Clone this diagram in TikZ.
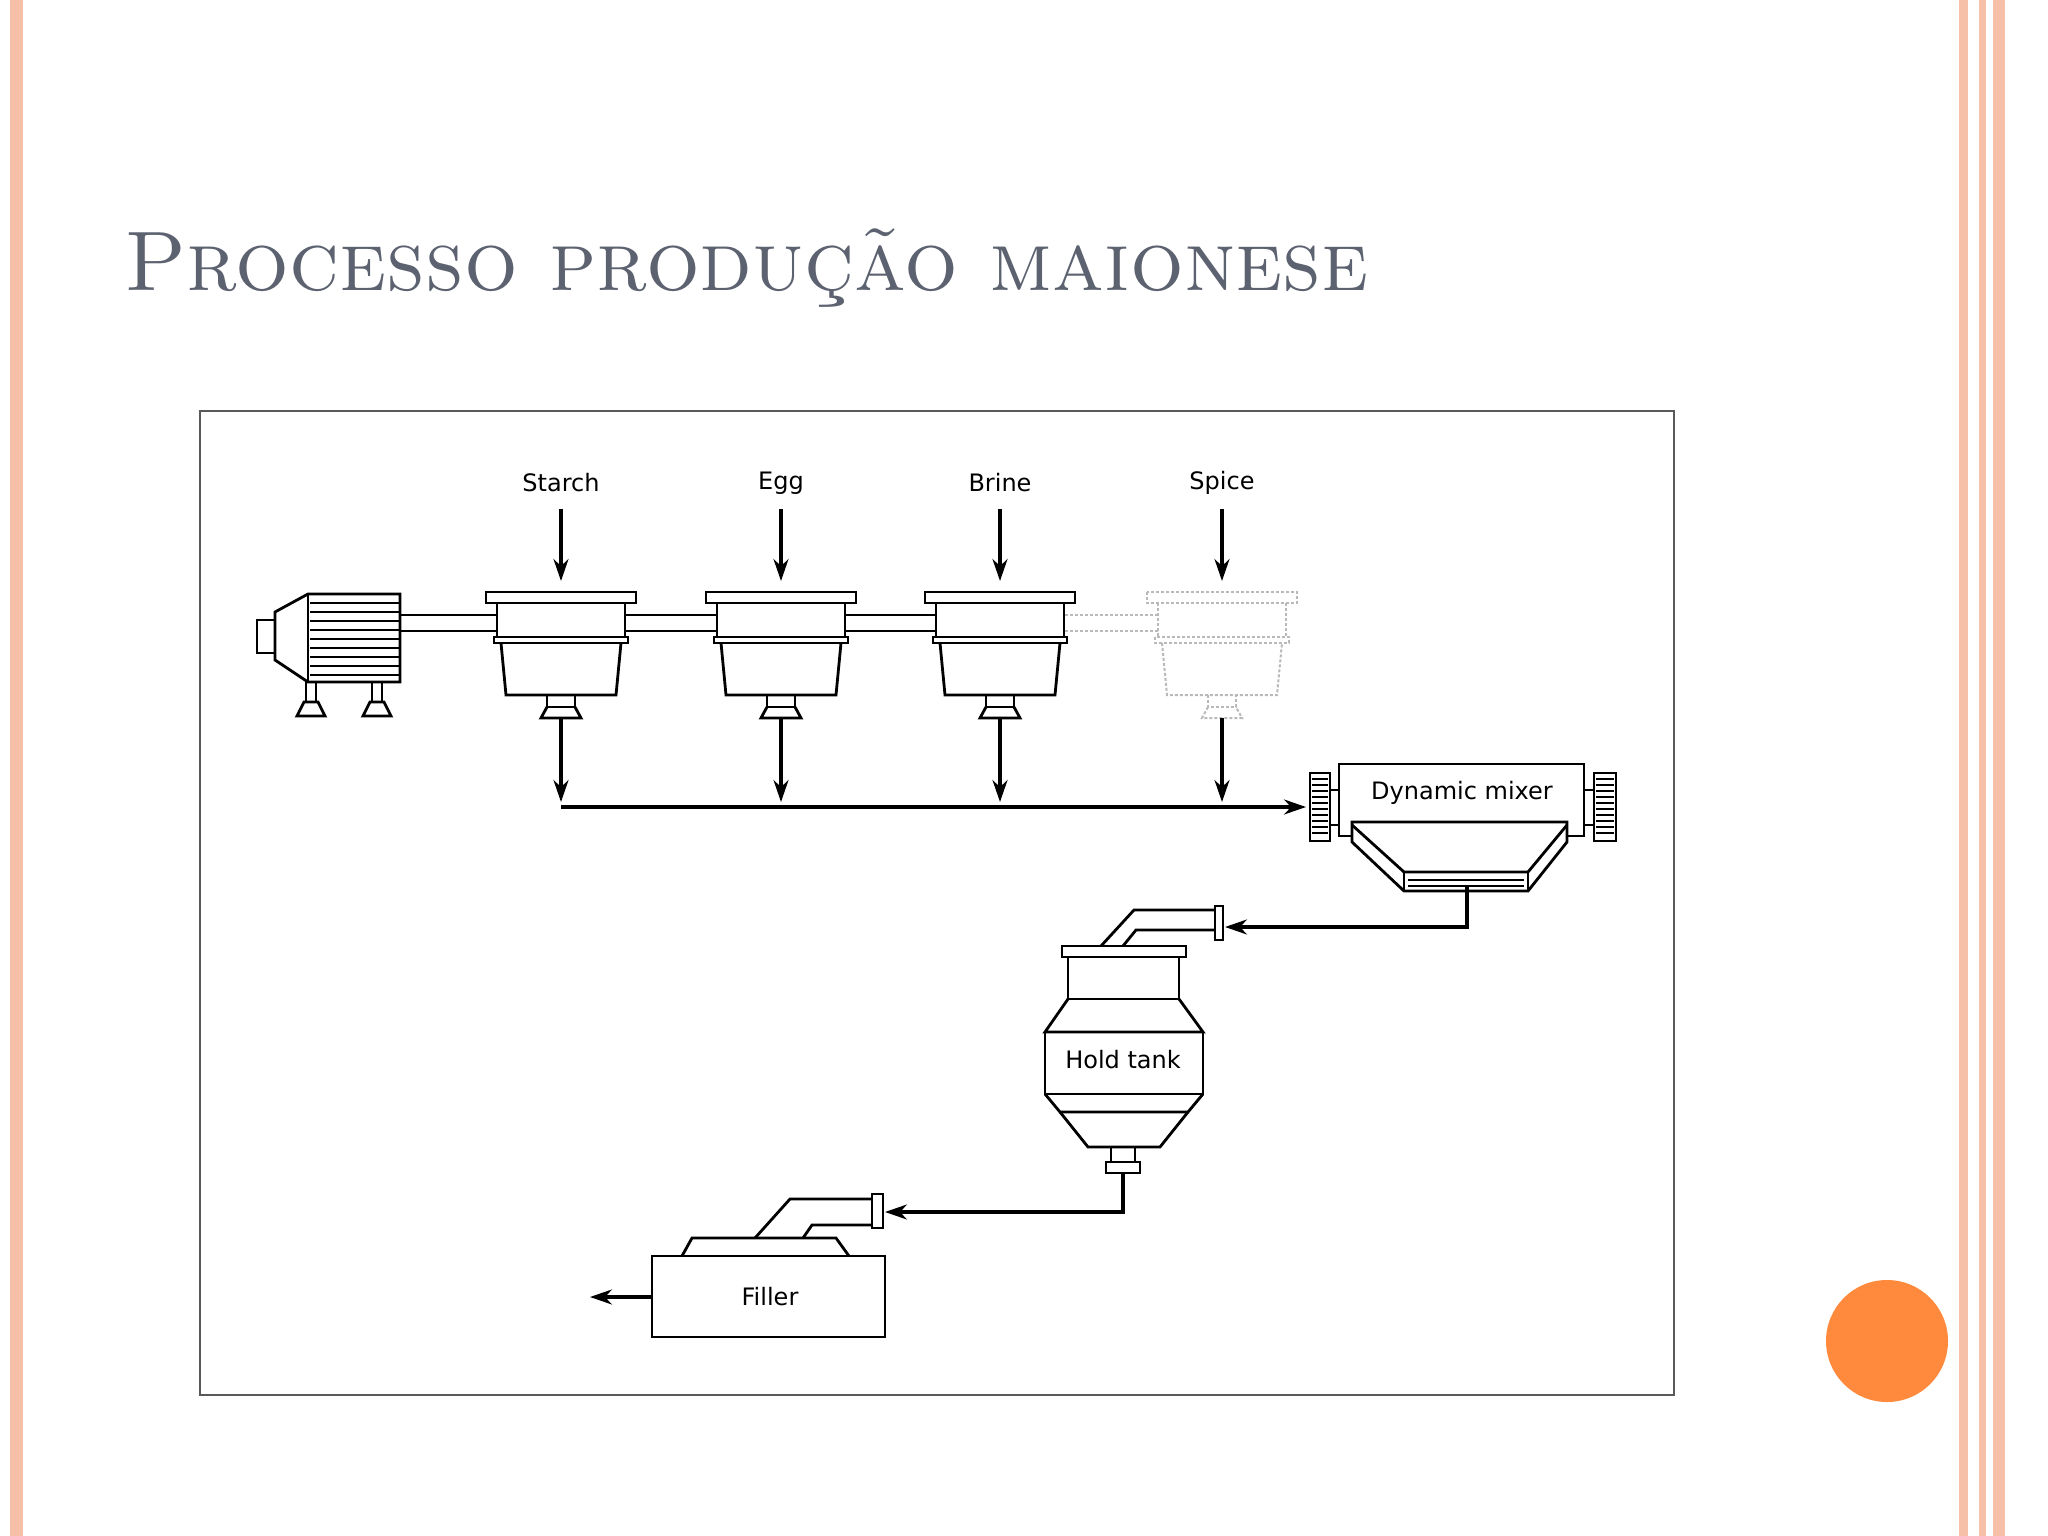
\documentclass[tikz,border=0pt]{standalone}
\usepackage{fontspec}
\newfontfamily\lab{DejaVu Sans}
\usetikzlibrary{arrows.meta}
\definecolor{deco}{HTML}{F6BFA8}
\definecolor{titlec}{HTML}{5C6270}
\definecolor{orb}{HTML}{FF8A3D}
\tikzset{
 ln/.style={line width=2.8pt,black},
 arr/.style={line width=3.2pt,-{Stealth[length=22pt,width=15pt]}},
 lbl/.style={font=\lab\fontsize{24}{28}\selectfont,inner sep=0pt},
 sp/.style={line width=2pt,gray!55,dashed,dash pattern=on 3pt off 2pt}
}
\newcommand{\hopper}[2]{%
 \fill[white] (#1-64,603) -- (#1-64,637) -- (#1-60,643) -- (#1-55,695) -- (#1+55,695) -- (#1+60,643) -- (#1+64,637) -- (#1+64,603) -- cycle;
 \draw[#2,fill=white] (#1-75,592) rectangle (#1+75,603);
 \draw[#2] (#1-64,603) -- (#1-64,637) (#1+64,603) -- (#1+64,637);
 \draw[#2,fill=white] (#1-67,637) rectangle (#1+67,643);
 \draw[#2] (#1-60,643) -- (#1-55,695) -- (#1+55,695) -- (#1+60,643);
 \draw[#2] (#1-14,695) rectangle (#1+14,707);
 \draw[#2] (#1-14,707) -- (#1-20,718) -- (#1+20,718) -- (#1+14,707);
}
\begin{document}
\begin{tikzpicture}[x=1pt,y=-1pt]
\useasboundingbox (0,0) rectangle (2048,1536);
\fill[white] (0,0) rectangle (2048,1536);
% decoration
\fill[deco] (10,0) rectangle (23,1536);
\fill[deco] (1959,0) rectangle (1968,1536);
\fill[deco] (1979,0) rectangle (1986,1536);
\fill[deco] (1993,0) rectangle (2005,1536);
\fill[orb] (1887,1341) circle (61);
\node[anchor=base west,inner sep=0pt,text=titlec,font=\fontsize{84.5}{100}\selectfont\scshape] (title) at (124,290) {Processo produção maionese};
% frame
\draw[line width=2.5pt,gray!70!black] (200,411) rectangle (1674,1395);
% shaft
\draw[ln] (400,615) -- (1000,615) (400,631) -- (1000,631);
\draw[sp] (1000,615) -- (1222,615) (1000,631) -- (1222,631);
% motor
\draw[ln,fill=white] (308,594) -- (400,594) -- (400,682) -- (308,682) -- (275,660) -- (275,612) -- cycle;
\draw[ln] (308,594) -- (308,682);
\foreach \y in {603,612,...,675} \draw[line width=1.8pt] (310,\y) -- (400,\y);
\draw[ln] (257,620) rectangle (275,653);
\foreach \x in {311,377}{\draw[ln] (\x-5,682) -- (\x-5,702) (\x+5,682) -- (\x+5,702);
 \draw[ln] (\x-7,702) -- (\x-14,716) -- (\x+14,716) -- (\x+7,702) -- cycle;}
% hoppers
\hopper{561}{ln}\hopper{781}{ln}\hopper{1000}{ln}\hopper{1222}{sp}
% labels and feeds
\foreach \x/\t/\n in {561/Starch/st,781/Egg/eg,1000/Brine/br,1222/Spice/spc}{
 \node[lbl] (\n) at (\x,483) {\t};
 \coordinate (\n a) at (\x,509); \coordinate (\n b) at (\x,581);
 \draw[arr] (\n a) -- (\n b);
 \coordinate (\n c) at (\x,718); \coordinate (\n d) at (\x,802);
 \draw[arr] (\n c) -- (\n d);}
% collector
\coordinate (c0) at (561,807); \coordinate (c1) at (1306,807);
\draw[arr] (c0) -- (c1);
% dynamic mixer
\draw[ln] (1352,836) -- (1339,836) -- (1339,764) -- (1584,764) -- (1584,836) -- (1567,836);
\node[lbl] (dm) at (1462,793) {Dynamic mixer};
\draw[ln] (1310,773) rectangle (1330,841); \draw[ln] (1594,773) rectangle (1616,841);
\foreach \y in {779,785,...,837}{\draw[line width=1.2pt] (1312,\y) -- (1328,\y); \draw[line width=1.2pt] (1596,\y) -- (1614,\y);}
\draw[ln] (1330,790) -- (1339,790) (1330,825) -- (1339,825) (1584,790) -- (1594,790) (1584,825) -- (1594,825);
\draw[ln] (1352,822) -- (1567,822) -- (1567,842) -- (1528,891) -- (1404,891) -- (1352,842) -- cycle;
\draw[ln] (1352,825) -- (1404,872) -- (1528,872) -- (1567,825);
\draw[ln] (1404,872) -- (1404,891) (1528,872) -- (1528,891);
\draw[line width=1.5pt] (1408,880) -- (1524,880) (1408,886) -- (1524,886);
\coordinate (mo) at (1467,886); \coordinate (hi) at (1225,927);
\draw[arr] (mo) |- (hi);
% hold tank
\draw[ln] (1101,946) -- (1134,910) -- (1215,910) (1123,946) -- (1136,930) -- (1215,930);
\draw[ln,fill=white] (1215,906) rectangle (1223,940);
\draw[ln,fill=white] (1062,946) rectangle (1186,957);
\draw[ln] (1068,957) -- (1068,999) -- (1179,999) -- (1179,957);
\draw[ln] (1068,999) -- (1045,1032) -- (1203,1032) -- (1179,999);
\draw[ln] (1045,1032) -- (1045,1094) -- (1203,1094) -- (1203,1032);
\draw[ln] (1045,1094) -- (1060,1112) -- (1188,1112) -- (1203,1094);
\draw[ln] (1060,1112) -- (1088,1147) -- (1160,1147) -- (1188,1112);
\node[lbl] (ht) at (1123,1060) {Hold tank};
\draw[ln] (1111,1147) -- (1111,1162) (1135,1147) -- (1135,1162);
\draw[ln] (1106,1162) rectangle (1140,1173);
\coordinate (ho) at (1123,1173); \coordinate (fi) at (885,1212);
\draw[arr] (ho) |- (fi);
% filler
\draw[ln] (682,1256) -- (692,1238) -- (836,1238) -- (849,1256);
\draw[ln] (755,1238) -- (790,1199) -- (872,1199) (803,1238) -- (812,1225) -- (872,1225);
\draw[ln,fill=white] (872,1194) rectangle (883,1228);
\draw[ln] (652,1256) rectangle (885,1337);
\node[lbl] (fl) at (770,1297) {Filler};
\coordinate (fo) at (652,1297); \coordinate (fx) at (590,1297);
\draw[arr] (fo) -- (fx);
\end{tikzpicture}
\end{document}
